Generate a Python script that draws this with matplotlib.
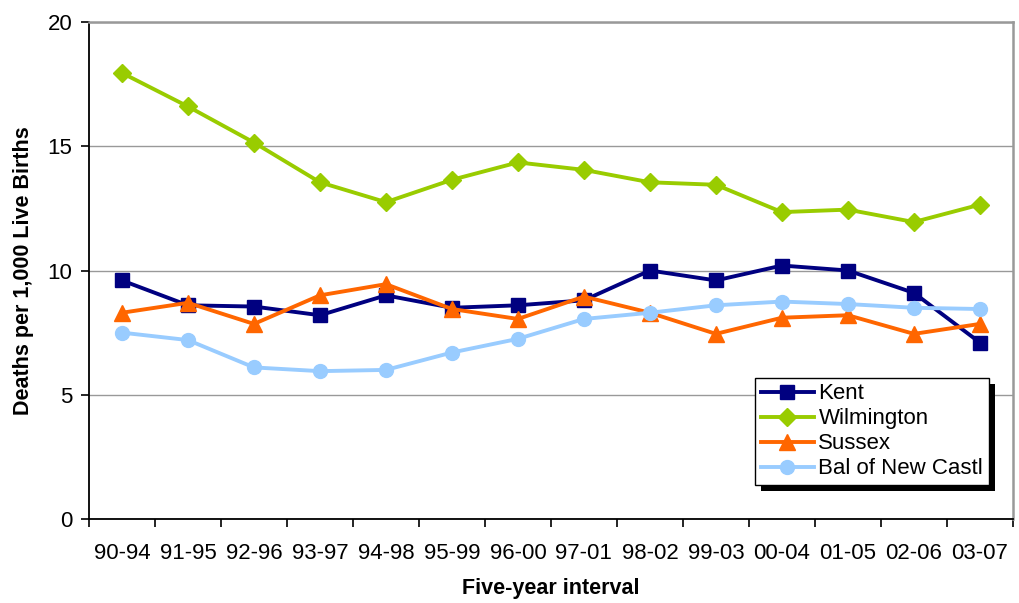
import numpy as np
import matplotlib
matplotlib.use("Agg")
import matplotlib.pyplot as plt
from matplotlib.patches import Rectangle
from matplotlib.transforms import IdentityTransform

plt.rcParams['font.family'] = ['Liberation Sans', 'DejaVu Sans']

intervals = ['90-94', '91-95', '92-96', '93-97', '94-98', '95-99', '96-00',
             '97-01', '98-02', '99-03', '00-04', '01-05', '02-06', '03-07']
kent = [9.6, 8.6, 8.55, 8.2, 9.0, 8.5, 8.6, 8.8, 10.0, 9.6, 10.2, 10.0, 9.1, 7.1]
wilmington = [17.95, 16.6, 15.15, 13.55, 12.75, 13.65, 14.35, 14.05, 13.55,
              13.45, 12.35, 12.45, 11.95, 12.65]
sussex = [8.3, 8.7, 7.85, 9.0, 9.45, 8.45, 8.05, 8.95, 8.3, 7.45, 8.1, 8.2, 7.45, 7.85]
bal_new_castle = [7.5, 7.2, 6.1, 5.95, 6.0, 6.7, 7.25, 8.05, 8.3, 8.6, 8.75,
                  8.65, 8.5, 8.45]

fig = plt.figure(figsize=(10.19, 6.03), dpi=100)
ax = fig.add_axes([0.0873, 0.1393, 0.9067, 0.8242])

x = np.arange(len(intervals))
ax.plot(x, kent, color='#000080', marker='s', markersize=10, linewidth=2.8, label='Kent', zorder=3)
ax.plot(x, wilmington, color='#99CC00', marker='D', markersize=9, linewidth=2.8, label='Wilmington', zorder=3)
ax.plot(x, sussex, color='#FF6600', marker='^', markersize=11, linewidth=2.8, label='Sussex', zorder=3)
ax.plot(x, bal_new_castle, color='#99CCFF', marker='o', markersize=10, linewidth=2.8,
        label='Bal of New Castl', zorder=3)

ax.set_xlim(-0.5, len(intervals) - 0.5)
ax.set_ylim(0, 20)
ax.set_yticks([0, 5, 10, 15, 20])
ax.yaxis.grid(True, color='#999999', linewidth=1)
ax.set_axisbelow(True)

ax.set_xticks(x)
ax.set_xticklabels(intervals)
ax.set_xticks(np.arange(-0.5, len(intervals), 1), minor=True)
ax.tick_params(axis='x', which='major', length=0, pad=17, labelsize=16)
ax.tick_params(axis='x', which='minor', length=6, width=1.2, direction='out')
ax.tick_params(axis='y', length=6, width=1.2, direction='out', labelsize=16, pad=6)

ax.spines['left'].set_color('black')
ax.spines['bottom'].set_color('black')
ax.spines['left'].set_linewidth(1.3)
ax.spines['bottom'].set_linewidth(1.3)
ax.spines['top'].set_color('#999999')
ax.spines['right'].set_color('#999999')
ax.spines['top'].set_linewidth(1.8)
ax.spines['right'].set_linewidth(1.8)

ax.set_xlabel('Five-year interval', fontsize=15.5, fontweight='bold', labelpad=10)
ax.set_ylabel('Deaths per 1,000 Live Births', fontsize=15.5, fontweight='bold', labelpad=10)

leg = ax.legend(loc='upper left', bbox_to_anchor=(0.721, 0.284), borderaxespad=0,
                fancybox=False, fontsize=16, handlelength=2.4, handletextpad=0.2,
                labelspacing=0.18, borderpad=0.25, framealpha=1)
leg.get_frame().set_edgecolor('black')
leg.get_frame().set_linewidth(1.0)
leg.set_zorder(6)

# black drop shadow behind the legend box
fig.canvas.draw()
bb = leg.get_window_extent()
ax.add_patch(Rectangle((bb.x0 + 6, bb.y0 - 6), bb.width, bb.height,
                       transform=IdentityTransform(), facecolor='black',
                       edgecolor='none', zorder=5, clip_on=False))

fig.savefig('out.png', dpi=100)
